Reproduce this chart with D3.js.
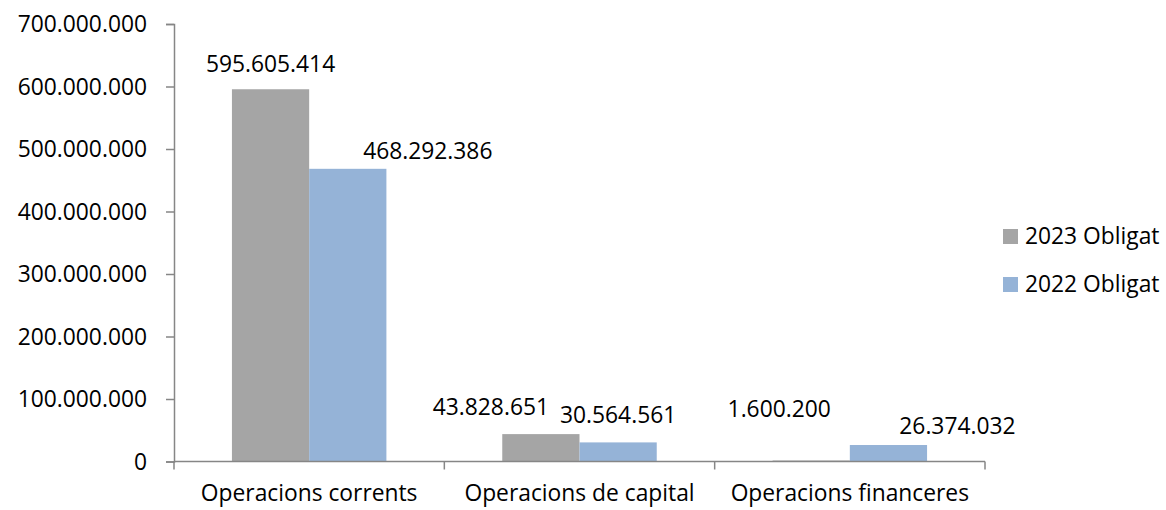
<!DOCTYPE html>
<html>
<head>
<meta charset="utf-8">
<script src="https://cdn.jsdelivr.net/npm/d3@7"></script>
<style>
  body { margin: 0; background: #fff; }
  svg text { font-family: "Open Sans", "Noto Sans", sans-serif; fill: #000; }
</style>
</head>
<body>
<svg id="chart" width="1166" height="510"></svg>
<script>
// data
var categories = ["Operacions corrents", "Operacions de capital", "Operacions financeres"];
var seriesNames = ["2023 Obligat", "2022 Obligat"];
var values2023 = [595605414, 43828651, 1600200];
var values2022 = [468292386, 30564561, 26374032];
var yTicks = [0, 100000000, 200000000, 300000000, 400000000, 500000000, 600000000, 700000000];

var colors = ["#a5a5a5", "#95b3d7"];
// hand-placed label nudges (dx, dy from bar top) like in the source sheet
var labelNudge = [
  [[0, -17], [-50, -19], [-32, -43]],
  [[80, -10], [0, -19], [69, -11]]
];

var svg = d3.select("#chart");
var plotLeft = 174, plotRight = 985, plotTop = 24, plotBottom = 461.5;
var fontSize = 22.8;

var x = d3.scaleBand().domain(categories).range([plotLeft, plotRight]).paddingInner(0).paddingOuter(0);
// excel gap width 150% -> each bar = band / 3.5
var barW = x.bandwidth() / 3.5;
var y = d3.scaleLinear().domain([0, 700000000]).range([plotBottom, plotTop]);

var fmt = function(v){
  return d3.format(",")(v).replace(/,/g, ".");
};

var series = [values2023, values2022];

// bars
series.forEach(function(vals, si){
  svg.append("g").selectAll("rect")
    .data(vals)
    .enter().append("rect")
    .attr("x", function(d, i){ return x(categories[i]) + x.bandwidth()/2 - barW + si*barW; })
    .attr("y", function(d){ return y(d); })
    .attr("width", barW)
    .attr("height", function(d){ return plotBottom - y(d); })
    .attr("fill", colors[si]);
});

// value labels
series.forEach(function(vals, si){
  svg.append("g").selectAll("text")
    .data(vals)
    .enter().append("text")
    .attr("x", function(d, i){ return x(categories[i]) + x.bandwidth()/2 - barW/2 + si*barW + labelNudge[si][i][0]; })
    .attr("y", function(d, i){ return y(d) + labelNudge[si][i][1]; })
    .attr("text-anchor", "middle")
    .attr("font-size", fontSize)
    .text(function(d){ return fmt(d); });
});

// y axis
var yAxis = d3.axisLeft(y).tickValues(yTicks).tickSize(8).tickPadding(19)
  .tickFormat(function(d){ return d === 0 ? "0" : fmt(d); });
var gy = svg.append("g").attr("transform", "translate(" + plotLeft + ",0)").call(yAxis);
gy.select(".domain").attr("stroke", "#868686").attr("stroke-width", 1.5);
gy.selectAll(".tick line").attr("stroke", "#868686").attr("stroke-width", 1.5);
gy.selectAll(".tick text").attr("font-size", fontSize).attr("dy", "0.35em")
  .style("font-family", '"Open Sans", sans-serif').attr("fill", "#000");

// x axis
var gx = svg.append("g").attr("transform", "translate(0," + plotBottom + ")");
gx.append("line").attr("x1", plotLeft).attr("x2", plotRight).attr("stroke", "#868686").attr("stroke-width", 1.5);
var tickXs = categories.map(function(c){ return x(c); }).concat([plotRight]);
gx.selectAll("line.tk").data(tickXs).enter().append("line")
  .attr("class", "tk")
  .attr("x1", function(d){ return d; }).attr("x2", function(d){ return d; })
  .attr("y1", 0).attr("y2", 8)
  .attr("stroke", "#868686").attr("stroke-width", 1.5);
gx.selectAll("text").data(categories).enter().append("text")
  .attr("x", function(d){ return x(d) + x.bandwidth()/2; })
  .attr("y", 39)
  .attr("text-anchor", "middle")
  .attr("font-size", fontSize)
  .text(function(d){ return d; });

// legend
var lg = svg.append("g").attr("transform", "translate(1003,229)");
seriesNames.forEach(function(name, i){
  lg.append("rect").attr("x", 0).attr("y", i*48).attr("width", 15).attr("height", 15).attr("fill", colors[i]);
  lg.append("text").attr("x", 22).attr("y", i*48 + 15).attr("font-size", fontSize).text(name);
});
</script>
</body>
</html>
